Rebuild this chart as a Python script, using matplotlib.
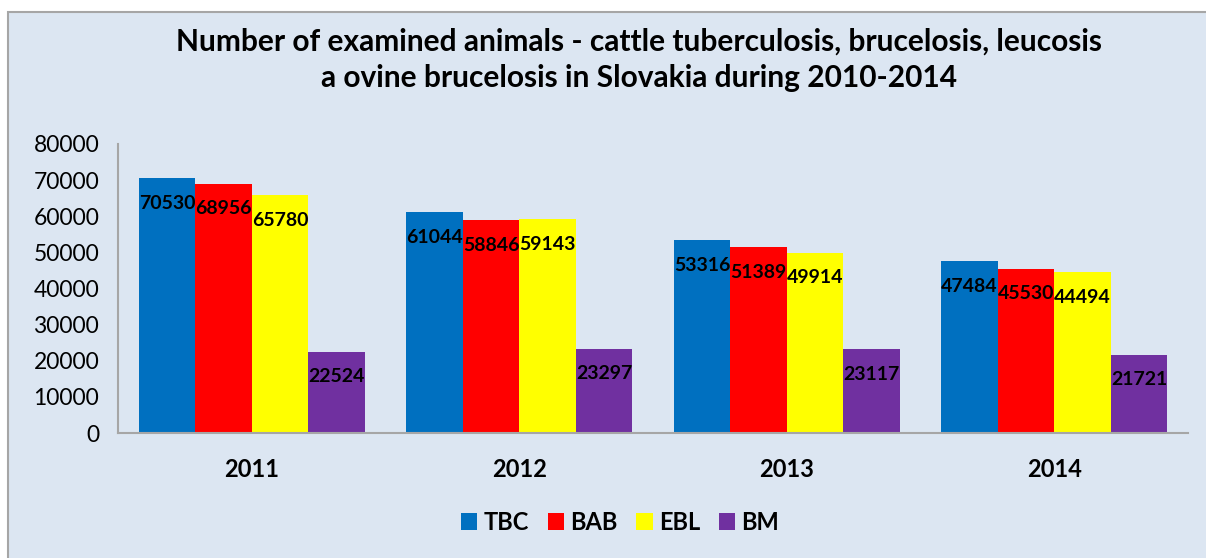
import numpy as np
import matplotlib.pyplot as plt
from matplotlib.patches import Rectangle

years = ["2011", "2012", "2013", "2014"]
series = ["TBC", "BAB", "EBL", "BM"]
tbc = [70530, 61044, 53316, 47484]
bab = [68956, 58846, 51389, 45530]
ebl = [65780, 59143, 49914, 44494]
bm = [22524, 23297, 23117, 21721]
colors = ["#0070c0", "#ff0000", "#ffff00", "#7030a0"]

plt.rcParams['font.family'] = ['Lato', 'DejaVu Sans']

fig = plt.figure(figsize=(12.06, 5.58), dpi=100)
fig.patch.set_facecolor("white")
# chart area background with a grey border
fig.patches.append(Rectangle((8 / 1206, -0.01), 1.02, (558 - 12) / 558 + 0.01,
                             transform=fig.transFigure, facecolor="#dce6f2",
                             edgecolor="#a6a6a6", linewidth=1.5, zorder=-10))

ax = fig.add_axes([118 / 1206, (558 - 433) / 558, (1188 - 118) / 1206, (433 - 144) / 558])
ax.set_facecolor("none")

x = np.arange(len(years))
w = 0.211
for i, (name, vals) in enumerate(zip(series, [tbc, bab, ebl, bm])):
    pos = x + (i - 1.5) * w
    ax.bar(pos, vals, width=w, color=colors[i], label=name, zorder=2)
    for p, v in zip(pos, vals):
        ax.annotate(str(v), (p, v), xytext=(0, -25), textcoords="offset pixels",
                    ha="center", va="center", fontsize=14, fontweight="bold",
                    color="black", zorder=3)

ax.set_xlim(-0.5, 3.5)
ax.set_ylim(0, 80000)
ax.set_yticks(np.arange(0, 80001, 10000))
ax.set_xticks(x)
ax.set_xticklabels(years, fontsize=17, fontweight="bold")
ax.tick_params(axis="y", labelsize=16.5, length=0, pad=13.5)
ax.tick_params(axis="x", length=0, pad=18)
for s in ["top", "right"]:
    ax.spines[s].set_visible(False)
for s in ["left", "bottom"]:
    ax.spines[s].set_color("#a6a6a6")
    ax.spines[s].set_linewidth(1.5)

fig.text(0.53, 1 - 42 / 558, "Number of examined animals - cattle tuberculosis, brucelosis, leucosis",
         ha="center", va="center", fontsize=21.5, fontweight="bold")
fig.text(0.53, 1 - 78 / 558, "a ovine brucelosis in Slovakia during 2010-2014",
         ha="center", va="center", fontsize=21.5, fontweight="bold")

leg = ax.legend(loc="center", bbox_to_anchor=(620 / 1206, (558 - 522) / 558), bbox_transform=fig.transFigure,
                ncol=4, frameon=False, prop={"size": 17, "weight": "bold"},
                handlelength=0.7, handleheight=0.7, handletextpad=0.25, columnspacing=0.8)

fig.savefig("out.png", dpi=100)
